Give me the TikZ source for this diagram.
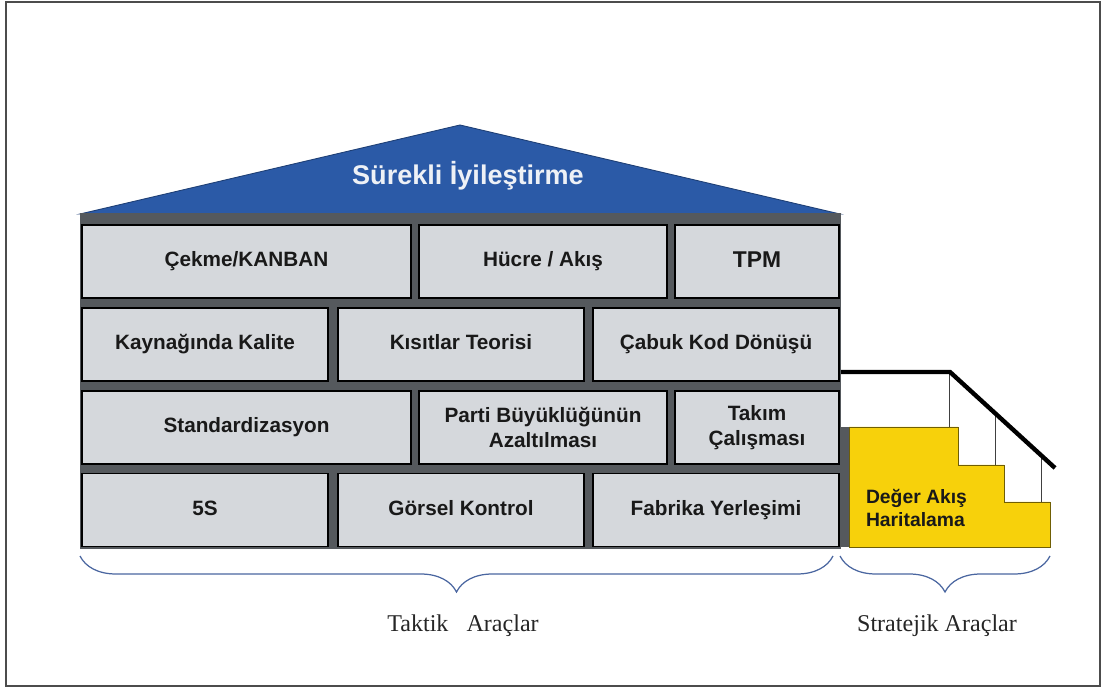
\documentclass[tikz,border=0pt]{standalone}
\usepackage{fontspec}
\setmainfont{Liberation Sans}
\newfontfamily\labelfont{Liberation Serif}
\usepackage{xcolor}
\usetikzlibrary{decorations.pathreplacing}

\definecolor{roofblue}{HTML}{2B5AA7}
\definecolor{wallgrey}{HTML}{55595D}
\definecolor{brickgrey}{HTML}{D5D8DC}
\definecolor{stepyellow}{HTML}{F7D10B}
\definecolor{braceblue}{HTML}{4A66A0}
\definecolor{titlewhite}{HTML}{EEF1F6}

\begin{document}
\begin{tikzpicture}[x=0.02cm, y=-0.02cm,
            every node/.style={
            inner sep=0pt, outer sep=0pt, text centered, font=\fontsize{11.8}{14}\selectfont\bfseries}
        ]
        \tikzstyle {grey_brick} = [rectangle, draw=black, line width=1.1pt, fill=brickgrey, minimum height=1.46cm, text=black!90, align=center, text height=8.6pt, text depth=2.6pt]
        \tikzstyle {two_lines} = [text height=, text depth=]
        \tikzstyle {wide_brick} = [grey_brick, minimum width=6.58cm]
        \tikzstyle {mid_brick} = [grey_brick, minimum width=4.96cm]
        \tikzstyle {short_brick} = [grey_brick, minimum width=3.28cm]
        \tikzstyle {even_brick} = [grey_brick, minimum width=4.92cm]
        \tikzstyle {blue_roof} = [fill=roofblue, draw=roofblue!70!black, line width=0.5pt]
        \tikzstyle {yellow_step} = [fill=stepyellow, draw=stepyellow!45!black, line width=0.5pt]
        \tikzstyle {rail} = [line width=2.5pt, black]
        \tikzstyle {post} = [line width=0.5pt, black!75]
        \tikzstyle {blue_brace} = [braceblue, line width=0.7pt, decorate, decoration={brace, amplitude=0.72cm}]
        \tikzstyle {bottom_label} = [font=\labelfont\fontsize{13.7}{16}\selectfont, text=black!85]

        \useasboundingbox (0,0) rectangle (1101,688);
        \draw [black!70, line width=1.1pt] (6,2) rectangle (1100,686);

        % roof and wall
        \draw [blue_roof] (80,214) -- (460,125) -- (840,214) -- cycle;
        \node [text=titlewhite, font=\fontsize{15.4}{18}\selectfont\bfseries] (title) at (468,176) {Sürekli İyileştirme};
        \fill [wallgrey] (80,213) rectangle (841,549);
        \fill [wallgrey] (841,427) rectangle (849,547);

        % bricks
        \node [wide_brick] (kanban) at (246.5,261.5) {Çekme/KANBAN};
        \node [mid_brick] (cell) at (543,261.5) {Hücre / Akış};
        \node [short_brick, text height=9.4pt, font=\fontsize{13}{15}\selectfont\bfseries] (tpm) at (757,261.5) {TPM};

        \node [even_brick] (quality) at (205,344.5) {Kaynağında Kalite};
        \node [even_brick] (toc) at (461,344.5) {Kısıtlar Teorisi};
        \node [even_brick] (smed) at (716,344.5) {Çabuk Kod Dönüşü};

        \node [wide_brick] (std) at (246.5,427.5) {Standardizasyon};
        \node [mid_brick, two_lines] (batch) at (543,427.5) {Parti Büyüklüğünün\\Azaltılması};
        \node [short_brick, two_lines] (team) at (757,427.5) {Takım\\Çalışması};

        \node [even_brick] (fives) at (205,510) {5S};
        \node [even_brick] (visual) at (461,510) {Görsel Kontrol};
        \node [even_brick] (layout) at (716,510) {Fabrika Yerleşimi};

        % stairs
        \draw [yellow_step] (849,427) -- (958,427) -- (958,465) -- (1004,465) -- (1004,502) -- (1050,502) -- (1050,547) -- (849,547) -- cycle;
        \coordinate (rail_a) at (841,372);
        \coordinate (rail_b) at (950,372);
        \coordinate (rail_c) at (1055,468);
        \draw [post] (949,372) -- (949,427);
        \draw [post] (995,413) -- (995,465);
        \draw [post] (1041,455) -- (1041,502);
        \draw [rail] (rail_a) -- (rail_b) -- (rail_c);
        \node [anchor=west, align=left, text=black!90, font=\fontsize{11}{13.6}\selectfont\bfseries] (vsm) at (866,508) {Değer Akış\\Haritalama};

        % braces
        \draw [blue_brace] (833,556) -- (80,556);
        \draw [blue_brace] (1050,556) -- (840,556);
        \node [bottom_label] (tactic) at (463,626) {Taktik\ \ \ Araçlar};
        \node [bottom_label] (strategic) at (937,626) {Stratejik Araçlar};

        \end{tikzpicture}
\end{document}
